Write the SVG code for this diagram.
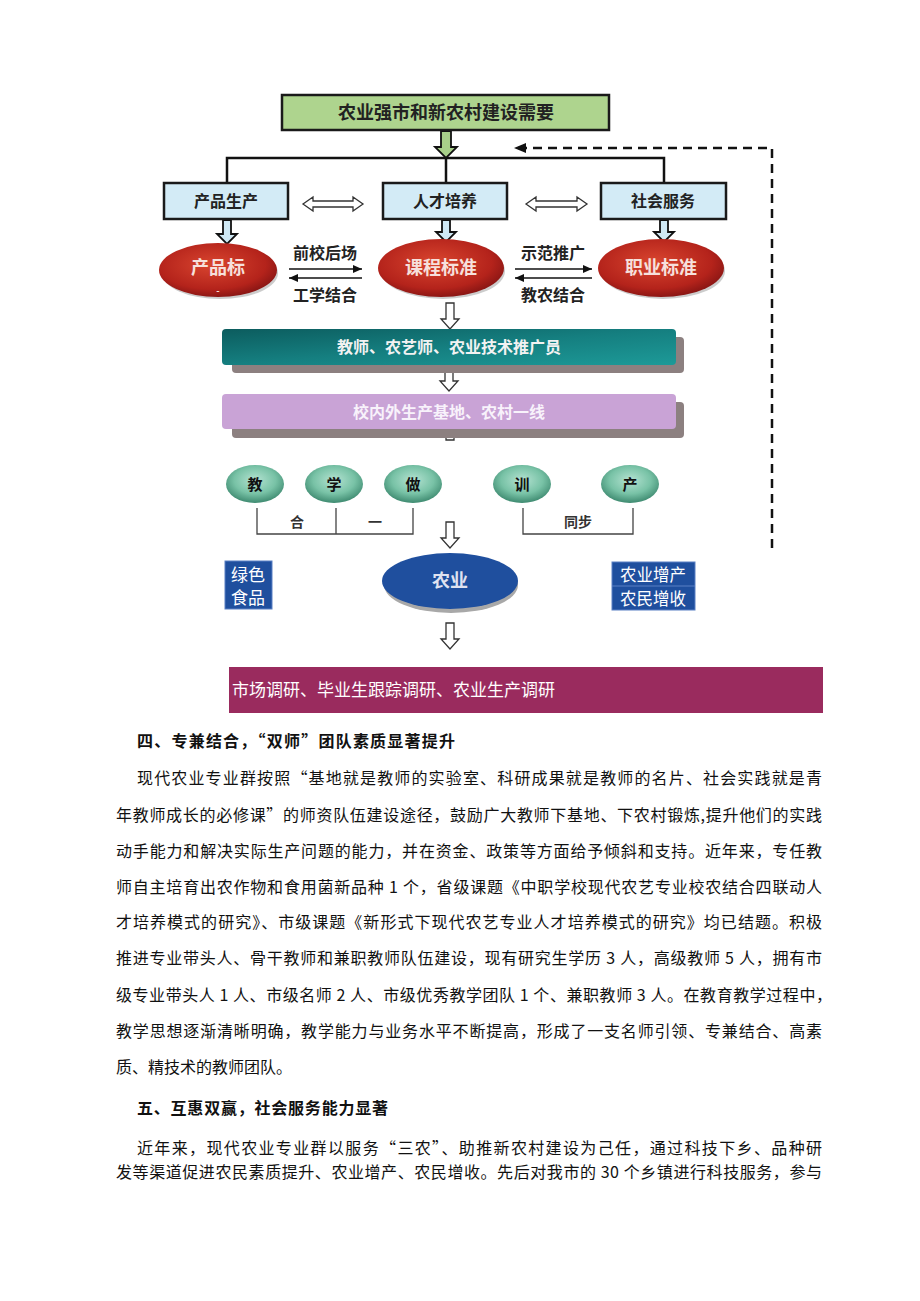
<svg xmlns="http://www.w3.org/2000/svg" width="920" height="1301" viewBox="0 0 920 1301">
<defs>
<style>
.d{font-family:"Noto Sans CJK SC","Liberation Sans",sans-serif;font-weight:bold;text-anchor:middle}
.b{font-family:"Noto Sans CJK SC","Liberation Sans",sans-serif;font-size:16px;fill:#111}
.h{font-family:"Noto Sans CJK SC","Liberation Sans",sans-serif;font-size:16px;font-weight:bold;fill:#111}
.box{fill:#d3ebf6;stroke:#1a1a1a;stroke-width:2.5}
.ln{fill:none;stroke:#111;stroke-width:2.5}
.hol{fill:#fff;stroke:#333;stroke-width:1.3}
.br{fill:none;stroke:#444;stroke-width:1.3}
.sh{fill:#8c8080}
</style>
<radialGradient id="red" cx="0.45" cy="0.4" r="0.65">
<stop offset="0" stop-color="#d9452f"/><stop offset="0.7" stop-color="#b4231b"/><stop offset="1" stop-color="#7e1212"/>
</radialGradient>
<radialGradient id="grn" cx="0.5" cy="0.4" r="0.6">
<stop offset="0" stop-color="#b5e3d2"/><stop offset="0.6" stop-color="#78c2a6"/><stop offset="1" stop-color="#3e8a70"/>
</radialGradient>
<linearGradient id="teal" x1="0" y1="0" x2="1" y2="1">
<stop offset="0" stop-color="#0c5c5e"/><stop offset="0.5" stop-color="#157f80"/><stop offset="1" stop-color="#1d9a98"/>
</linearGradient>
<marker id="ah" markerWidth="10" markerHeight="10" refX="9" refY="5" orient="auto" markerUnits="userSpaceOnUse">
<path d="M0,1 L9,5 L0,9 Z" fill="#111"/>
</marker>
<marker id="ahd" markerWidth="14" markerHeight="12" refX="12" refY="6" orient="auto" markerUnits="userSpaceOnUse">
<path d="M0,1 L12,6 L0,11 Z" fill="#111"/>
</marker>
</defs>
<rect width="920" height="1301" fill="#fff"/>

<g id="connectors">
<path class="ln" d="M227 182 V158 H664 V182 M446 158 V182"/>
<path fill="none" stroke="#111" stroke-width="2.5" stroke-dasharray="9 6" d="M772 548 V148 H514" marker-end="url(#ahd)"/>
<path d="M441 131 V147 H435 L446 158 L457 147 H451 V131 Z" fill="#a8d08a" stroke="#111" stroke-width="1.8"/>
<path d="M223 220 V234 H217 L227 244 L237 234 H231 V220 Z" fill="#cfe8f4" stroke="#111" stroke-width="1.8"/>
<path d="M442 220 V232 H436 L446 242 L456 232 H450 V220 Z" fill="#cfe8f4" stroke="#111" stroke-width="1.8"/>
<path d="M660 220 V232 H654 L664 242 L674 232 H668 V220 Z" fill="#cfe8f4" stroke="#111" stroke-width="1.8"/>
<path class="hol" d="M303 204 L313 197 V201 H353 V197 L363 204 L353 211 V207 H313 V211 Z"/>
<path class="hol" d="M526 204 L536 197 V201 H577 V197 L587 204 L577 211 V207 H536 V211 Z"/>
<line x1="289" y1="269" x2="362" y2="269" stroke="#111" stroke-width="1.6" marker-end="url(#ah)"/>
<line x1="362" y1="278" x2="289" y2="278" stroke="#111" stroke-width="1.6" marker-end="url(#ah)"/>
<line x1="515" y1="269" x2="592" y2="269" stroke="#111" stroke-width="1.6" marker-end="url(#ah)"/>
<line x1="592" y1="278" x2="515" y2="278" stroke="#111" stroke-width="1.6" marker-end="url(#ah)"/>
<path class="hol" d="M446 303 V319 H441 L450 329 L459 319 H454 V303 Z"/>
<path class="hol" d="M445 366 V381 H440 L449 391 L458 381 H453 V366 Z"/>
<path class="hol" d="M446 434 V440 H454 V434 Z"/>
<path class="hol" d="M446 522 V538 H441 L450 548 L459 538 H454 V522 Z"/>
<path class="hol" d="M446 623 V639 H441 L450 649 L459 639 H454 V623 Z"/>
<path class="br" d="M257 508 V534 H413 V508 M336 508 V534"/>
<path class="br" d="M523 508 V534 H633 V508"/>
</g>

<g id="n-top">
<rect x="282" y="95" width="327" height="35" fill="#aed48e" stroke="#1a1a1a" stroke-width="2.5"/>
<text class="d" x="446" y="119" font-size="18" fill="#222">农业强市和新农村建设需要</text>
</g>
<g id="n-chanpin">
<rect class="box" x="164" y="183" width="124" height="36"/>
<text class="d" x="226" y="207" font-size="16" fill="#222">产品生产</text>
</g>
<g id="n-rencai">
<rect class="box" x="383" y="183" width="124" height="36"/>
<text class="d" x="445" y="207" font-size="16" fill="#222">人才培养</text>
</g>
<g id="n-shehui">
<rect class="box" x="601" y="183" width="125" height="36"/>
<text class="d" x="663" y="207" font-size="16" fill="#222">社会服务</text>
</g>

<g id="n-cpb">
<ellipse cx="220" cy="273" rx="58" ry="26" fill="#999" opacity="0.5"/>
<ellipse cx="218" cy="270" rx="59" ry="27" fill="url(#red)"/>
<text class="d" x="218" y="274" font-size="18" fill="#f6e0dc">产品标</text>
<text class="d" x="218" y="294" font-size="9" fill="#f6e0dc">-</text>
</g>
<g id="n-kcbz">
<ellipse cx="443" cy="271" rx="62" ry="28" fill="#999" opacity="0.5"/>
<ellipse cx="441" cy="268" rx="63" ry="29" fill="url(#red)"/>
<text class="d" x="441" y="274" font-size="18" fill="#f6e0dc">课程标准</text>
</g>
<g id="n-zybz">
<ellipse cx="663" cy="271" rx="62" ry="28" fill="#999" opacity="0.5"/>
<ellipse cx="661" cy="268" rx="63" ry="29" fill="url(#red)"/>
<text class="d" x="661" y="274" font-size="18" fill="#f6e0dc">职业标准</text>
</g>
<g id="lbl-arrows">
<text class="d" x="325" y="259" font-size="16" fill="#222">前校后场</text>
<text class="d" x="325" y="301" font-size="16" fill="#222">工学结合</text>
<text class="d" x="553" y="259" font-size="16" fill="#222">示范推广</text>
<text class="d" x="553" y="301" font-size="16" fill="#222">教农结合</text>
</g>

<g id="n-teachers">
<rect class="sh" x="232" y="337" width="452" height="36" rx="4"/>
<rect x="222" y="329" width="454" height="36" rx="4" fill="url(#teal)"/>
<text class="d" x="449" y="353" font-size="16" fill="#f2f2f2">教师、农艺师、农业技术推广员</text>
</g>
<g id="n-base">
<rect class="sh" x="232" y="402" width="452" height="36" rx="4"/>
<rect x="222" y="394" width="454" height="35" rx="4" fill="#c9a3d6"/>
<text class="d" x="449" y="418" font-size="16" fill="#f8f2fb">校内外生产基地、农村一线</text>
</g>

<g id="n-jiao"><ellipse cx="255" cy="484" rx="29" ry="19" fill="url(#grn)"/><text class="d" x="255" y="490" font-size="15" fill="#111">教</text></g>
<g id="n-xue"><ellipse cx="334" cy="484" rx="29" ry="19" fill="url(#grn)"/><text class="d" x="334" y="490" font-size="15" fill="#111">学</text></g>
<g id="n-zuo"><ellipse cx="413" cy="484" rx="29" ry="19" fill="url(#grn)"/><text class="d" x="413" y="490" font-size="15" fill="#111">做</text></g>
<g id="n-xun"><ellipse cx="522" cy="484" rx="29" ry="19" fill="url(#grn)"/><text class="d" x="522" y="490" font-size="15" fill="#111">训</text></g>
<g id="n-chan"><ellipse cx="630" cy="484" rx="29" ry="19" fill="url(#grn)"/><text class="d" x="630" y="490" font-size="15" fill="#111">产</text></g>
<g id="lbl-brackets">
<text class="d" x="297" y="527" font-size="14" font-weight="normal" fill="#333">合</text>
<text class="d" x="375" y="527" font-size="14" font-weight="normal" fill="#333">一</text>
<text class="d" x="578" y="527" font-size="14" font-weight="normal" fill="#333">同步</text>
</g>

<g id="n-lvse">
<rect x="225" y="561" width="47" height="48" fill="#1f4f9e" stroke="#5a80c4" stroke-width="1"/>
<text x="231" y="581" font-family="'Noto Sans CJK SC',sans-serif" font-size="17" fill="#fff">绿色</text>
<text x="231" y="604" font-family="'Noto Sans CJK SC',sans-serif" font-size="17" fill="#fff">食品</text>
</g>
<g id="n-nongye">
<ellipse cx="451" cy="585" rx="67" ry="28" fill="#a8a8a8"/>
<ellipse cx="450" cy="581" rx="68" ry="28" fill="#1f4f9e"/>
<text class="d" x="450" y="587" font-size="18" fill="#dfe2f0">农业</text>
</g>
<g id="n-zengchan">
<rect x="612" y="562" width="83" height="48" fill="#1f4f9e" stroke="#5a80c4" stroke-width="1"/>
<line x1="612" y1="586" x2="695" y2="586" stroke="#5a80c4" stroke-width="1"/>
<text x="653" y="581" text-anchor="middle" font-family="'Noto Sans CJK SC',sans-serif" font-size="16.5" fill="#fff">农业增产</text>
<text x="653" y="605" text-anchor="middle" font-family="'Noto Sans CJK SC',sans-serif" font-size="16.5" fill="#fff">农民增收</text>
</g>
<g id="n-research">
<rect x="229" y="667" width="594" height="46" fill="#9a2b5e"/>
<text x="232" y="696" font-family="'Noto Sans CJK SC',sans-serif" font-size="17" fill="#fff" textLength="323" lengthAdjust="spacingAndGlyphs">市场调研、毕业生跟踪调研、农业生产调研</text>
</g>

<g id="body-text">
<text class="h" x="137" y="747" textLength="318">四、专兼结合，“双师”团队素质显著提升</text>
<text class="b" x="137" y="784" textLength="685">现代农业专业群按照“基地就是教师的实验室、科研成果就是教师的名片、社会实践就是青</text>
<text class="b" x="116" y="821" textLength="706">年教师成长的必修课”的师资队伍建设途径，鼓励广大教师下基地、下农村锻炼,提升他们的实践</text>
<text class="b" x="116" y="857" textLength="706">动手能力和解决实际生产问题的能力，并在资金、政策等方面给予倾斜和支持。近年来，专任教</text>
<text class="b" x="116" y="893" textLength="706">师自主培育出农作物和食用菌新品种 1 个，省级课题《中职学校现代农艺专业校农结合四联动人</text>
<text class="b" x="116" y="928" textLength="706">才培养模式的研究》、市级课题《新形式下现代农艺专业人才培养模式的研究》均已结题。积极</text>
<text class="b" x="116" y="964" textLength="706">推进专业带头人、骨干教师和兼职教师队伍建设，现有研究生学历 3 人，高级教师 5 人，拥有市</text>
<text class="b" x="116" y="1001" textLength="716">级专业带头人 1 人、市级名师 2 人、市级优秀教学团队 1 个、兼职教师 3 人。在教育教学过程中，</text>
<text class="b" x="116" y="1037" textLength="706">教学思想逐渐清晰明确，教学能力与业务水平不断提高，形成了一支名师引领、专兼结合、高素</text>
<text class="b" x="116" y="1073">质、精技术的教师团队。</text>
<text class="h" x="137" y="1114" textLength="251">五、互惠双赢，社会服务能力显著</text>
<text class="b" x="137" y="1154" textLength="685">近年来，现代农业专业群以服务“三农”、助推新农村建设为己任，通过科技下乡、品种研</text>
<text class="b" x="116" y="1178" textLength="706">发等渠道促进农民素质提升、农业增产、农民增收。先后对我市的 30 个乡镇进行科技服务，参与</text>
</g>
</svg>
